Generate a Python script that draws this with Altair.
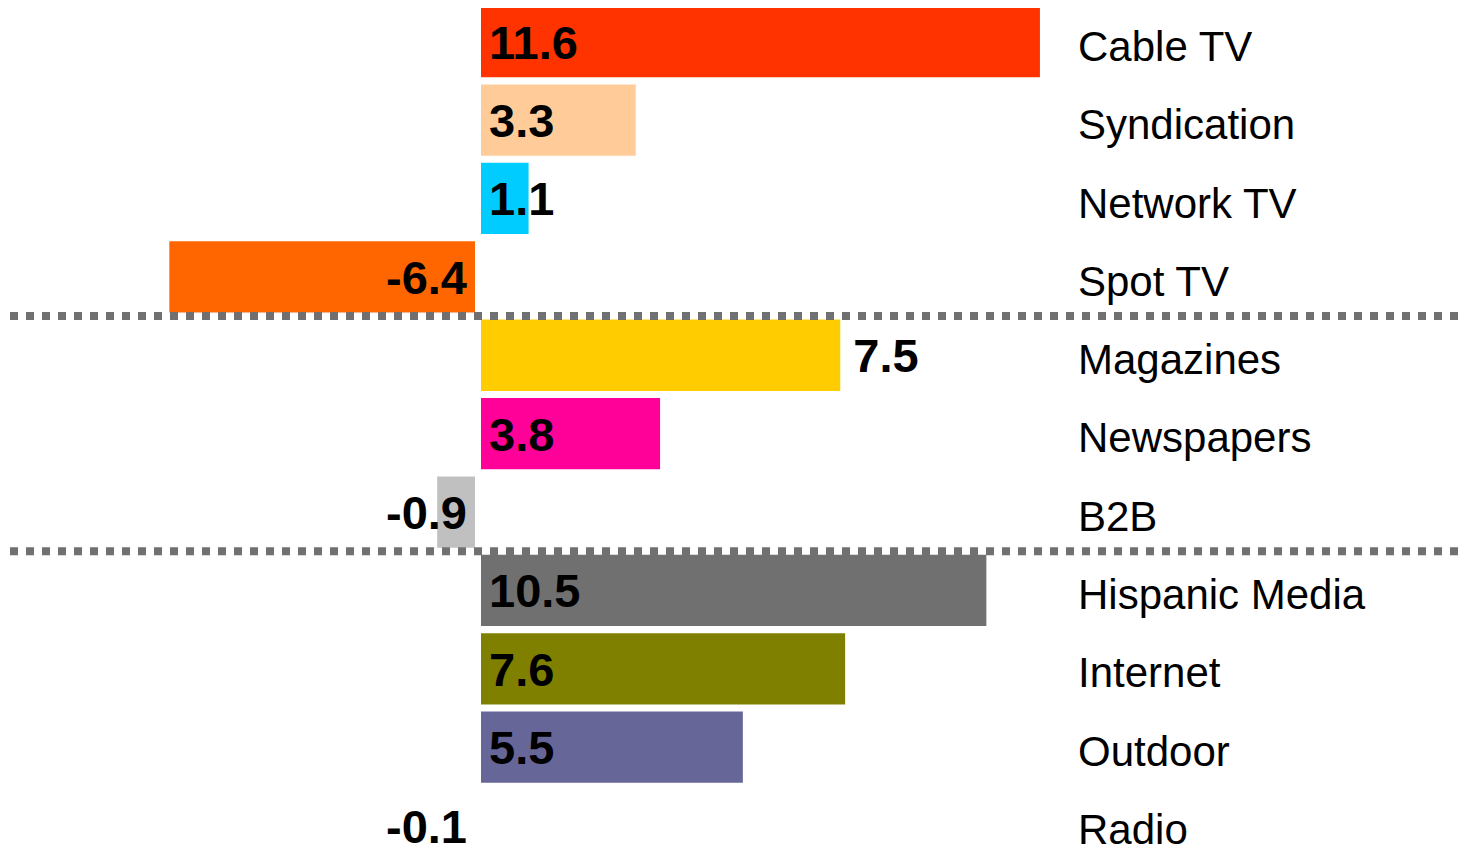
import altair as alt
import pandas as pd

categories = ["Cable TV", "Syndication", "Network TV", "Spot TV", "Magazines",
              "Newspapers", "B2B", "Hispanic Media", "Internet", "Outdoor", "Radio"]
values = [11.6, 3.3, 1.1, -6.4, 7.5, 3.8, -0.9, 10.5, 7.6, 5.5, -0.1]
colors = ["#FF3300", "#FFCC99", "#00CCFF", "#FF6600", "#FFCC00", "#FF0099",
          "#C0C0C0", "#707070", "#808000", "#666699", "#993366"]
outside_labels = ["Magazines"]
group_breaks_after = ["Spot TV", "B2B"]

df = pd.DataFrame({"category": categories, "value": values, "color": colors})
df["row"] = list(range(len(df)))
df["lo"] = df["row"] - 0.493
df["hi"] = df["row"] + 0.493
df["label"] = [f"{v:.1f}" for v in values]
df["outside"] = [c in outside_labels for c in categories]

sep = pd.DataFrame({"pos": [categories.index(c) + 0.5 for c in group_breaks_after]})

W, H = 1452, 845
xscale = alt.Scale(domain=[-9.651, 20.164], nice=False, zero=False)
yscale = alt.Scale(domain=[-0.4299, 10.3496], reverse=True, nice=False, zero=False)
yscale_lab = alt.Scale(domain=[-0.6769, 10.115], reverse=True, nice=False, zero=False)

base = alt.Chart(df)

bars = base.mark_bar(stroke="white", strokeWidth=6, clip=True).encode(
    x=alt.X("value:Q", scale=xscale, axis=None),
    x2=alt.datum(0),
    y=alt.Y("lo:Q", scale=yscale, axis=None),
    y2="hi:Q",
    color=alt.Color("color:N", scale=None),
)

txt = dict(font="Liberation Sans", fontSize=47, fontWeight="bold", color="black",
           baseline="alphabetic", dy=17)

lab_in = base.transform_filter("datum.value >= 0 && !datum.outside").transform_calculate(
    zero="0").mark_text(align="left", dx=11, **txt).encode(
    x=alt.X("zero:Q", scale=xscale, axis=None),
    y=alt.Y("row:Q", scale=yscale, axis=None),
    text="label:N",
)

lab_out = base.transform_filter("datum.outside").mark_text(
    align="left", dx=10, **txt).encode(
    x=alt.X("value:Q", scale=xscale, axis=None),
    y=alt.Y("row:Q", scale=yscale, axis=None),
    text="label:N",
)

lab_neg = base.transform_filter("datum.value < 0").transform_calculate(zero="0").mark_text(
    align="right", dx=-11, **txt).encode(
    x=alt.X("zero:Q", scale=xscale, axis=None),
    y=alt.Y("row:Q", scale=yscale, axis=None),
    text="label:N",
)

seps = alt.Chart(sep).mark_rule(strokeDash=[8, 8], strokeWidth=8, color="#707070").encode(
    y=alt.Y("pos:Q", scale=yscale, axis=None),
    x=alt.value(2),
    x2=alt.value(W),
)

cats = base.mark_text(align="left", baseline="alphabetic", font="Liberation Sans",
                      fontSize=42, color="black").encode(
    x=alt.value(1070),
    y=alt.Y("row:Q", scale=yscale_lab, axis=None),
    text="category:N",
)

chart = alt.layer(bars, lab_in, lab_out, lab_neg, seps, cats).resolve_scale(
    y="independent"
).properties(
    width=W, height=H, autosize=alt.AutoSizeParams(type="none"), padding=0,
    background="white",
).configure_view(stroke=None)

chart.save("out.html", embed_options={"renderer": "svg", "actions": False})
